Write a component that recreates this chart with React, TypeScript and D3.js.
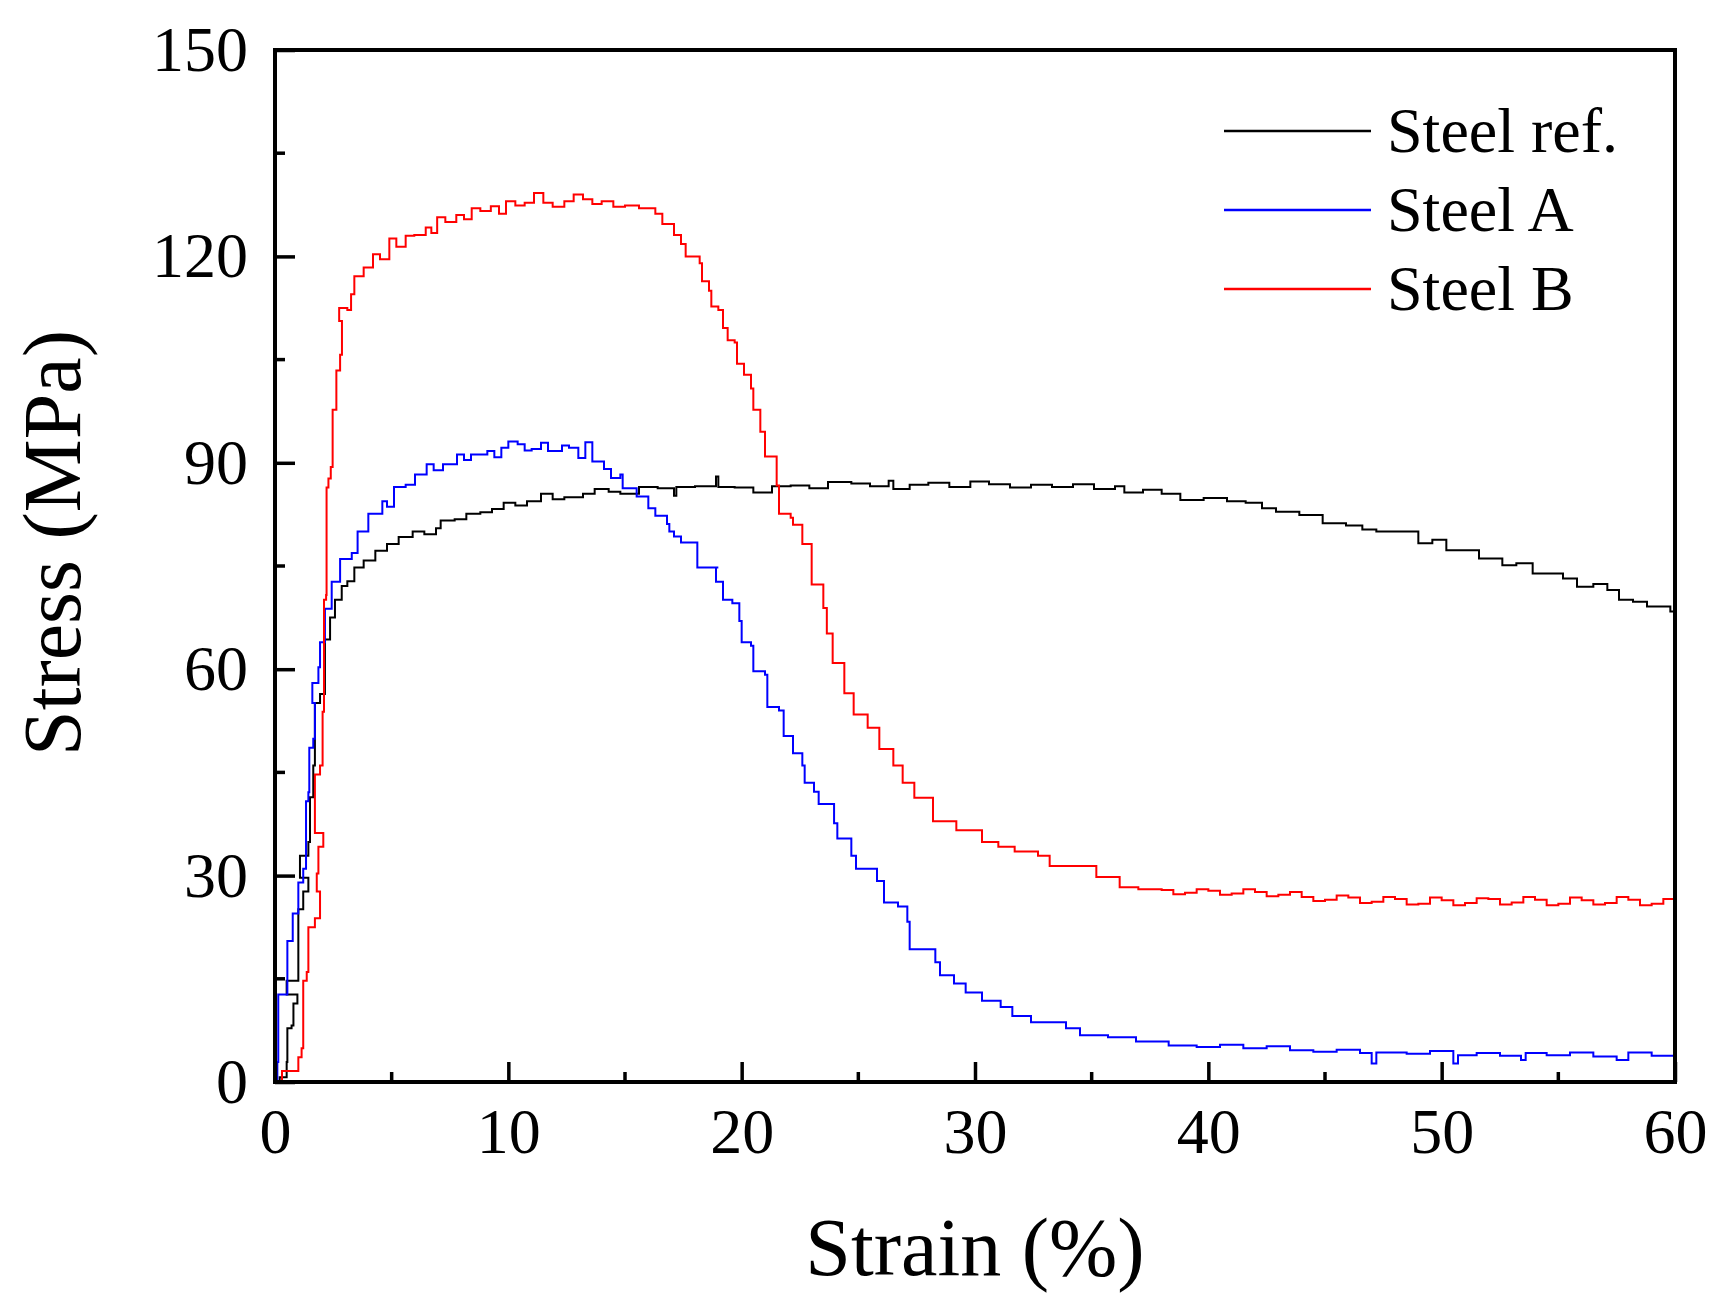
import React, { useEffect, useRef } from 'react';
import * as d3 from 'd3';

// Strain (%) / stress (MPa) pairs
const steelRef: [number, number][] = [
  [0, 0], [0.2, 0.7], [0.5, 2.9], [0.53, 7.8], [0.71, 8.2], [0.79, 11.4], [0.96, 12.7], [0.5, 14.7],
  [1.0, 16.3], [1.0, 25.1], [1.21, 27.7], [1.43, 29.7], [1.07, 32.9], [1.43, 34.9], [1.5, 41.4],
  [1.64, 46], [1.71, 47.9], [1.71, 55.1], [1.93, 56.4], [2.14, 57.7], [2.14, 64.3], [2.36, 67.5],
  [2.57, 70.1], [2.86, 72.1], [3.1, 72.8], [3.4, 74.8], [3.8, 75.8], [4.3, 77.2], [4.8, 78.2],
  [5.3, 79.2], [5.9, 80.0], [6.4, 79.6], [6.9, 80.5], [7.1, 81.6], [7.7, 81.8], [8.2, 82.6],
  [8.8, 82.8], [9.3, 83.3], [9.8, 84.2], [10.3, 83.8], [10.8, 84.4], [11.4, 85.5], [11.9, 84.7],
  [12.4, 85.0], [13.2, 85.5], [13.7, 86.2], [14.3, 85.8], [14.8, 85.5], [15.6, 86.5], [16.4, 86.3],
  [17.1, 85.2], [17.2, 86.5], [18.0, 86.6], [18.9, 88.0], [19.0, 86.5], [19.7, 86.4], [20.5, 85.7],
  [21.3, 86.6], [22.1, 86.7], [22.9, 86.3], [23.7, 87.2], [24.7, 87.0], [25.5, 86.6], [26.3, 87.4],
  [26.5, 86.2], [27.2, 86.8], [28.0, 87.1], [28.9, 86.5], [29.8, 87.3], [30.6, 86.9], [31.5, 86.4],
  [32.4, 86.8], [33.3, 86.5], [34.2, 86.9], [35.1, 86.2], [36.0, 86.6], [36.4, 85.7], [37.2, 86.1],
  [38.0, 85.5], [38.8, 84.6], [39.8, 84.9], [40.8, 84.4], [41.6, 84.2], [42.3, 83.4], [42.9, 82.9],
  [43.9, 82.4], [44.9, 81.2], [45.9, 80.9], [46.6, 80.3], [47.2, 80.0], [48.2, 80.0], [49.0, 78.3],
  [49.6, 78.8], [50.2, 77.3], [51.2, 77.3], [51.6, 76.1], [52.6, 75.1], [53.2, 75.4], [53.9, 73.9],
  [55.2, 73.2], [55.8, 72.0], [56.5, 72.4], [57.1, 71.5], [57.6, 70.1], [58.2, 69.8], [58.8, 69.1],
  [59.8, 68.4], [60, 68.6],
];

const steelA: [number, number][] = [
  [0, 0], [0.1, 2.9], [0.14, 12.7], [0.53, 15.3], [0.53, 20.5], [0.76, 24.5], [1.0, 29], [1.21, 31],
  [1.33, 40.8], [1.43, 42.1], [1.47, 48.6], [1.64, 49.9], [1.71, 55.1], [1.6, 58], [1.86, 60.3],
  [1.93, 63.9], [2.14, 68.8], [2.43, 72.7], [2.79, 76], [3.29, 76.9], [3.54, 80.0], [4.0, 82.6],
  [4.6, 84.4], [4.8, 83.6], [5.1, 86.5], [5.6, 86.8], [6.0, 88.3], [6.5, 89.8], [6.8, 88.9],
  [7.2, 89.8], [7.8, 91.2], [8.1, 90.4], [8.4, 91.2], [9.1, 91.7], [9.4, 90.8], [9.7, 92.2],
  [10.0, 93.1], [10.4, 92.7], [10.7, 91.8], [11.0, 92.0], [11.4, 92.9], [11.7, 91.7], [12.3, 92.5],
  [12.6, 92.2], [13.0, 90.7], [13.3, 93.0], [13.6, 90.2], [14.1, 89.1], [14.4, 87.8], [14.8, 88.3],
  [14.9, 86.3], [15.5, 85.1], [16.0, 83.4], [16.3, 82.3], [16.8, 81.1], [16.9, 80.0], [17.1, 79.3],
  [17.4, 78.4], [18.1, 77.4], [18.1, 74.8], [19.0, 74.8], [18.9, 72.7], [19.2, 70.1], [19.6, 69.6],
  [19.9, 67.0], [20.0, 63.9], [20.4, 63.4], [20.5, 59.7], [21.0, 59.2], [21.1, 54.5], [21.6, 54],
  [21.8, 50.3], [22.2, 47.8], [22.6, 46], [22.7, 43.5], [23.1, 42.2], [23.3, 40.4], [23.96, 37.6],
  [24.1, 35.4], [24.7, 32.9], [24.9, 31], [25.8, 29.2], [26.1, 26.1], [26.7, 25.5], [27.1, 23.3],
  [27.2, 19.3], [28.1, 19.3], [28.3, 17.4], [28.5, 15.5], [29.1, 14.3], [29.6, 13], [30.3, 11.8],
  [31.1, 10.9], [31.6, 9.6], [32.4, 8.7], [33.9, 7.8], [34.5, 6.8], [35.7, 6.5], [36.9, 5.9],
  [38.3, 5.3], [39.5, 5.1], [40.5, 5.4], [41.5, 4.9], [42.5, 5.2], [43.5, 4.6], [44.5, 4.4],
  [45.5, 4.7], [46.5, 4.2], [47.0, 2.7], [47.2, 4.3], [48.5, 4.1], [49.5, 4.5], [50.5, 2.7],
  [50.7, 3.9], [51.5, 4.2], [52.5, 3.8], [53.4, 3.2], [53.6, 4.2], [54.5, 3.9], [55.5, 4.3],
  [56.5, 3.7], [57.5, 3.2], [58.0, 4.3], [59.0, 3.8], [60, 4.2],
];

const steelB: [number, number][] = [
  [0.2, 0], [0.3, 1.6], [1.0, 1.6], [1.0, 3.6], [1.14, 4.9], [1.21, 6.8], [1.21, 14.7], [1.36, 16],
  [1.43, 22.5], [1.71, 23.8], [1.93, 25.1], [1.93, 27.7], [1.79, 30.3], [1.86, 34.2], [2.07, 36.2],
  [1.71, 38.8], [1.71, 44.7], [1.93, 46], [2.04, 47.9], [2.04, 53.8], [2.1, 60.3], [2.1, 70.1],
  [2.19, 70.8], [2.21, 86.4], [2.29, 87.7], [2.39, 89.4], [2.47, 97.7], [2.63, 99.7], [2.63, 103.4],
  [2.79, 105.7], [2.87, 110.6], [2.75, 112.5], [3.1, 112.2], [3.26, 114.5], [3.4, 117.1], [3.8, 118.4],
  [4.2, 120.3], [4.5, 119.6], [4.9, 122.6], [5.2, 121.4], [5.6, 123.0], [5.97, 123.1], [6.46, 124.2],
  [6.7, 123.4], [6.95, 125.7], [7.3, 125.0], [7.77, 126.0], [8.1, 125.4], [8.43, 127.0], [8.8, 126.6],
  [9.25, 127.3], [9.6, 126.2], [9.9, 128.0], [10.3, 127.4], [10.7, 127.8], [11.1, 129.2], [11.5, 127.8],
  [11.9, 127.2], [12.4, 128.0], [12.8, 129.0], [13.2, 128.3], [13.6, 127.6], [14.0, 128.0], [14.5, 127.2],
  [15.0, 127.4], [15.6, 127.0], [16.3, 126.2], [16.6, 124.7], [17.1, 123.1], [17.4, 121.8], [17.6, 120.0],
  [18.2, 119.0], [18.3, 116.4], [18.6, 115.0], [18.7, 112.7], [19.0, 112.2], [19.2, 109.6], [19.4, 107.8],
  [19.7, 107.5], [19.8, 104.4], [20.1, 102.8], [20.4, 100.8], [20.5, 97.7], [20.8, 94.5], [21.0, 90.9],
  [21.4, 90.9], [21.5, 86.7], [21.6, 82.6], [22.1, 82.0], [22.2, 81], [22.6, 78.2], [23.0, 72.3],
  [23.5, 68.9], [23.65, 65.2], [23.9, 60.9], [24.4, 56.5], [24.8, 53.4], [25.4, 51.5], [25.9, 48.4],
  [26.5, 46], [26.9, 43.5], [27.4, 41.3], [28.2, 37.9], [28.9, 37.9], [29.2, 36.6], [30.3, 34.9],
  [31.0, 34.2], [31.7, 33.5], [32.7, 32.9], [33.2, 31.4], [34.4, 31.4], [35.2, 29.8], [36.2, 28.3],
  [37.0, 28.0], [38.0, 27.9], [38.5, 27.3], [39.0, 27.5], [39.5, 28.0], [40.0, 27.8], [40.5, 27.2],
  [41.0, 27.4], [41.5, 28.0], [42.0, 27.6], [42.5, 27.0], [43.0, 27.2], [43.5, 27.6], [44.0, 26.9],
  [44.5, 26.3], [45.0, 26.5], [45.5, 27.1], [46.0, 26.8], [46.5, 26.0], [47.0, 26.2], [47.5, 26.9],
  [48.0, 26.6], [48.5, 25.8], [49.0, 25.9], [49.5, 26.8], [50.0, 26.4], [50.5, 25.7], [51.0, 26.0],
  [51.5, 26.7], [52.0, 26.6], [52.5, 25.8], [53.0, 26.1], [53.5, 26.9], [54.0, 26.5], [54.5, 25.7],
  [55.0, 25.9], [55.5, 26.8], [56.0, 26.4], [56.5, 25.8], [57.0, 26.0], [57.5, 26.9], [58.0, 26.5],
  [58.5, 25.7], [59.0, 25.9], [59.5, 26.6], [60.0, 26.3],
];

const seriesNames = ['Steel ref.', 'Steel A', 'Steel B'];
const seriesColors = ['#000000', '#0000ff', '#ff0000'];
const seriesData = [steelRef, steelA, steelB];

const xMajorTicks = [0, 10, 20, 30, 40, 50, 60];
const xMinorTicks = [5, 15, 25, 35, 45, 55];
const yMajorTicks = [0, 30, 60, 90, 120, 150];
const yMinorTicks = [15, 45, 75, 105, 135];

const W = 1717;
const H = 1307;
const FONT = '"Liberation Serif", "Times New Roman", serif';

const App: React.FC = () => {
  const svgRef = useRef<SVGSVGElement>(null);

  useEffect(() => {
    if (!svgRef.current) return;
    const svg = d3.select(svgRef.current);
    svg.selectAll('*').remove();

    const left = 275, right = 1675, top = 50, bottom = 1082;
    const x = d3.scaleLinear().domain([0, 60]).range([left, right]);
    const y = d3.scaleLinear().domain([0, 150]).range([bottom, top]);

    svg.append('clipPath').attr('id', 'plot-clip')
      .append('rect')
      .attr('x', left).attr('y', top)
      .attr('width', right - left).attr('height', bottom - top);

    // 曲线
    const line = d3.line<[number, number]>()
      .x(d => x(d[0]))
      .y(d => y(d[1]))
      .curve(d3.curveStepAfter);

    const curves = svg.append('g').attr('clip-path', 'url(#plot-clip)');
    seriesData.forEach((data, i) => {
      curves.append('path')
        .attr('d', line(data) as string)
        .attr('fill', 'none')
        .attr('stroke', seriesColors[i])
        .attr('stroke-width', 2)
        .attr('stroke-linejoin', 'miter');
    });

    // x axis (ticks point inward)
    const xAxis = svg.append('g')
      .attr('transform', `translate(0,${bottom})`)
      .call(d3.axisBottom(x).tickValues(xMajorTicks).tickSize(-20).tickPadding(26).tickFormat(d3.format('d')));
    xAxis.select('.domain').remove();
    xAxis.selectAll('line').attr('stroke', '#000').attr('stroke-width', 3.5);
    xAxis.selectAll('text').attr('font-family', FONT).attr('font-size', 64).attr('fill', '#000');

    svg.append('g').selectAll('line')
      .data(xMinorTicks)
      .enter()
      .append('line')
      .attr('x1', d => x(d)).attr('x2', d => x(d))
      .attr('y1', bottom).attr('y2', bottom - 10)
      .attr('stroke', '#000').attr('stroke-width', 3.5);

    // y axis
    const yAxis = svg.append('g')
      .attr('transform', `translate(${left},0)`)
      .call(d3.axisLeft(y).tickValues(yMajorTicks).tickSize(-20).tickPadding(27).tickFormat(d3.format('d')));
    yAxis.select('.domain').remove();
    yAxis.selectAll('line').attr('stroke', '#000').attr('stroke-width', 3.5);
    yAxis.selectAll('text').attr('font-family', FONT).attr('font-size', 64).attr('fill', '#000');

    svg.append('g').selectAll('line')
      .data(yMinorTicks)
      .enter()
      .append('line')
      .attr('x1', left).attr('x2', left + 10)
      .attr('y1', d => y(d)).attr('y2', d => y(d))
      .attr('stroke', '#000').attr('stroke-width', 3.5);

    // frame
    svg.append('rect')
      .attr('x', left).attr('y', top)
      .attr('width', right - left).attr('height', bottom - top)
      .attr('fill', 'none')
      .attr('stroke', '#000')
      .attr('stroke-width', 4);

    // axis titles
    svg.append('text')
      .attr('x', (left + right) / 2)
      .attr('y', 1275)
      .attr('text-anchor', 'middle')
      .attr('font-family', FONT)
      .attr('font-size', 82)
      .attr('fill', '#000')
      .text('Strain (%)');

    svg.append('text')
      .attr('transform', `translate(80,543) rotate(-90)`)
      .attr('text-anchor', 'middle')
      .attr('font-family', FONT)
      .attr('font-size', 82)
      .attr('fill', '#000')
      .text('Stress (MPa)');

    // legend
    const legend = svg.append('g');
    seriesNames.forEach((name, i) => {
      const ly = 131 + i * 79;
      legend.append('line')
        .attr('x1', 1224).attr('x2', 1371)
        .attr('y1', ly).attr('y2', ly)
        .attr('stroke', seriesColors[i])
        .attr('stroke-width', 2.5);
      legend.append('text')
        .attr('x', 1387)
        .attr('y', ly + 21)
        .attr('font-family', FONT)
        .attr('font-size', 64)
        .attr('fill', '#000')
        .text(name);
    });
  }, []);

  return (
    <svg
      ref={svgRef}
      width={W}
      height={H}
      style={{ position: 'absolute', left: 0, top: 0, background: '#fff' }}
    />
  );
};

export default App;
